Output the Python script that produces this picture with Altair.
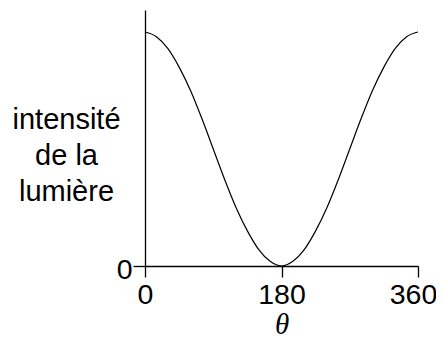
import altair as alt
import pandas as pd

theta = [0, 15, 30, 45, 60, 75, 90, 105, 120, 135, 150, 165, 180,
         195, 210, 225, 240, 255, 270, 285, 300, 315, 330, 345, 360]
intensity = [1.00, 0.98, 0.93, 0.85, 0.75, 0.63, 0.50, 0.37, 0.25, 0.15, 0.07, 0.02, 0.00,
             0.02, 0.07, 0.15, 0.25, 0.37, 0.50, 0.63, 0.75, 0.85, 0.93, 0.98, 1.00]
x_ticks = [0, 180, 360]
y_ticks = [0]
y_title = ["intensité", "de la", "lumière"]
x_title = "θ"

df = pd.DataFrame({"theta": theta, "intensity": intensity})

chart = alt.Chart(df).mark_line(color="black", strokeWidth=1.2, interpolate="monotone").encode(
    x=alt.X("theta:Q",
            scale=alt.Scale(domain=[0, 360], nice=False, zero=False),
            axis=alt.Axis(values=x_ticks, format="d", grid=False,
                          domainColor="black", domainWidth=1.3,
                          tickColor="black", tickWidth=1.3, tickSize=11,
                          labelFont="Liberation Sans", labelFontSize=28.5, labelColor="black",
                          labelPadding=3, labelFlush=False, labelOverlap=False,
                          labelOffset={"condition": {"test": "datum.value === 360", "value": -5},
                                       "value": 0},
                          title=x_title, titleFont="Liberation Serif", titleFontStyle="italic",
                          titleFontSize=29, titleFontWeight="normal", titleColor="black",
                          titleBaseline="alphabetic", titleY=67)),
    y=alt.Y("intensity:Q",
            scale=alt.Scale(domain=[0, 1.094], nice=False),
            axis=alt.Axis(values=y_ticks, format="d", grid=False,
                          domainColor="black", domainWidth=1.3,
                          tickColor="black", tickWidth=1.3, tickSize=12,
                          labelFont="Liberation Sans", labelFontSize=28.5, labelColor="black",
                          labelPadding=1, labelBaseline="middle", labelOffset=3,
                          labelFlush=False, labelOverlap=False,
                          title=y_title, titleFont="Liberation Sans", titleFontSize=29,
                          titleFontWeight="normal", titleColor="black", titleAngle=0,
                          titleAlign="center", titleBaseline="alphabetic",
                          titleX=-79, titleY=118, titleLineHeight=36)),
).properties(
    width=273, height=256,
    autosize=alt.AutoSizeParams(type="none"),
    padding={"left": 137, "top": 2, "right": 18, "bottom": 78},
).configure_view(strokeWidth=0)

chart.save("out.html", embed_options={"renderer": "svg", "actions": False})
